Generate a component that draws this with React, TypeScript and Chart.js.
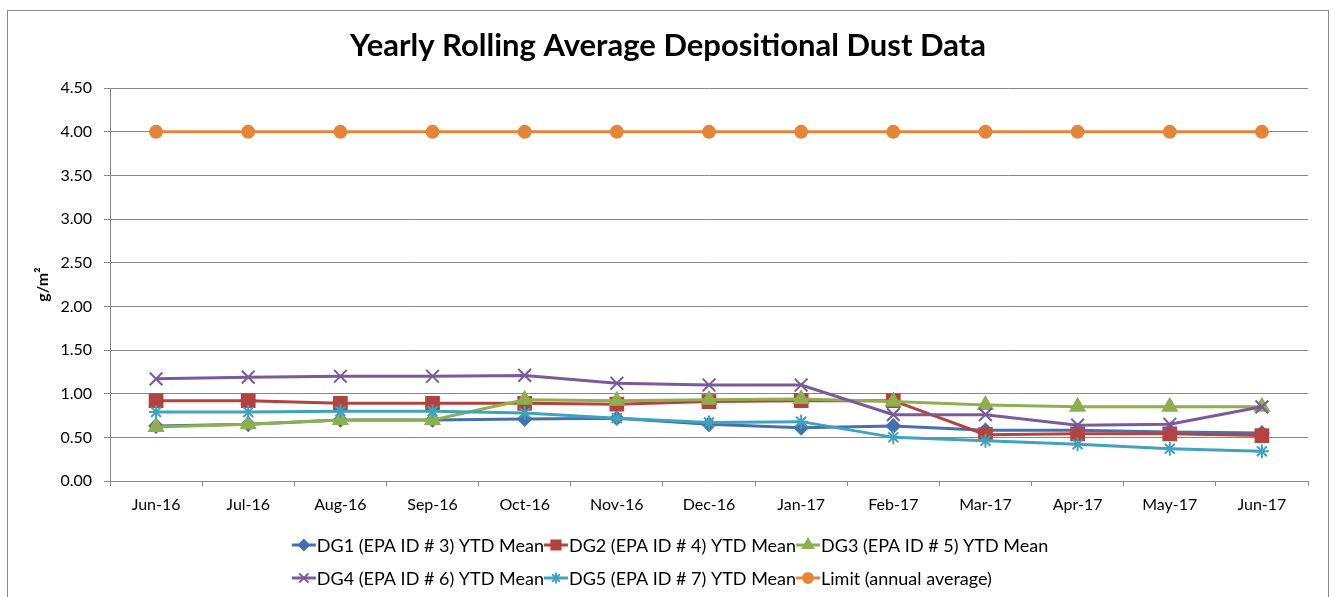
import React, { useEffect, useRef } from 'react';
import { Chart, registerables } from 'chart.js';
import { drawPoint } from 'chart.js/helpers';

Chart.register(...registerables);

const categories = ['Jun-16', 'Jul-16', 'Aug-16', 'Sep-16', 'Oct-16', 'Nov-16', 'Dec-16', 'Jan-17', 'Feb-17', 'Mar-17', 'Apr-17', 'May-17', 'Jun-17'];
const dg1 = [0.63, 0.65, 0.70, 0.70, 0.71, 0.72, 0.65, 0.61, 0.63, 0.58, 0.58, 0.56, 0.55];
const dg2 = [0.92, 0.92, 0.89, 0.89, 0.89, 0.88, 0.91, 0.92, 0.92, 0.53, 0.54, 0.54, 0.52];
const dg3 = [0.62, 0.65, 0.70, 0.70, 0.93, 0.92, 0.93, 0.94, 0.91, 0.87, 0.85, 0.85, 0.85];
const dg4 = [1.17, 1.19, 1.20, 1.20, 1.21, 1.12, 1.10, 1.10, 0.76, 0.76, 0.64, 0.65, 0.85];
const dg5 = [0.79, 0.79, 0.80, 0.80, 0.78, 0.72, 0.67, 0.68, 0.50, 0.46, 0.42, 0.37, 0.34];
const limit = [4.0, 4.0, 4.0, 4.0, 4.0, 4.0, 4.0, 4.0, 4.0, 4.0, 4.0, 4.0, 4.0];

const seriesNames = [
  'DG1 (EPA ID # 3) YTD Mean',
  'DG2 (EPA ID # 4) YTD Mean',
  'DG3 (EPA ID # 5) YTD Mean',
  'DG4 (EPA ID # 6) YTD Mean',
  'DG5 (EPA ID # 7) YTD Mean',
  'Limit (annual average)',
];
const seriesValues = [dg1, dg2, dg3, dg4, dg5, limit];
const seriesColors = ['#4471AD', '#B3433F', '#8DB04C', '#7A5A9C', '#3FA2BE', '#E5853A'];
const seriesStyles = ['rectRot', 'rect', 'triangle', 'crossRot', 'star', 'circle'];
const seriesRadius = [6.5, 9, 8, 9, 7, 6];
const legendRadius = [5, 6.5, 6, 6.5, 5.5, 5];

const titleText = 'Yearly Rolling Average Depositional Dust Data';
const yTitle = 'g/m²';
const FONT = 'Lato';
const GRID = '#878787';

const legendPlugin = {
  id: 'excelLegend',
  afterDraw(chart: any) {
    const ctx = chart.ctx;
    ctx.save();
    ctx.font = `18px ${FONT}`;
    ctx.textBaseline = 'middle';
    ctx.textAlign = 'left';
    const rows = [[0, 1, 2], [3, 4, 5]];
    const rowY = [545, 578];
    const symW = 24;
    const gap = 1;
    const widths = rows.map((r) => r.reduce((s, i) => s + symW + gap + ctx.measureText(seriesNames[i]).width, 0));
    const maxW = Math.max(...widths);
    const left = 670 - maxW / 2;
    rows.forEach((r, ri) => {
      let x = left;
      const y = rowY[ri];
      r.forEach((i) => {
        const c = seriesColors[i];
        ctx.strokeStyle = c;
        ctx.fillStyle = c;
        ctx.lineWidth = 3;
        ctx.beginPath();
        ctx.moveTo(x, y);
        ctx.lineTo(x + symW, y);
        ctx.stroke();
        ctx.lineWidth = 2;
        drawPoint(ctx, { pointStyle: seriesStyles[i], rotation: 0, radius: legendRadius[i], borderWidth: 2 }, x + symW / 2, y);
        ctx.fillStyle = '#000';
        ctx.fillText(seriesNames[i], x + symW + gap, y + 1);
        x += symW + gap + ctx.measureText(seriesNames[i]).width;
      });
    });
    ctx.restore();
  },
};

export default function App() {
  const ref = useRef<HTMLCanvasElement | null>(null);
  useEffect(() => {
    if (!ref.current) return;
    const chart = new Chart(ref.current, {
      type: 'line',
      data: {
        labels: categories,
        datasets: seriesValues.map((vals, i) => ({
          label: seriesNames[i],
          data: vals,
          borderColor: seriesColors[i],
          backgroundColor: seriesColors[i],
          pointBackgroundColor: seriesColors[i],
          pointBorderColor: seriesColors[i],
          pointStyle: seriesStyles[i] as any,
          pointRadius: seriesRadius[i],
          pointBorderWidth: 2,
          borderWidth: 3,
          tension: 0,
          fill: false,
          order: 6 - i,
        })),
      },
      options: {
        responsive: false,
        devicePixelRatio: 1,
        animation: false,
        layout: { padding: { left: 28, right: 27, top: 0, bottom: 76 } },
        plugins: {
          legend: { display: false },
          tooltip: { enabled: false },
          title: {
            display: true,
            text: titleText,
            color: '#000',
            font: { family: FONT, size: 31, weight: 'bold' },
            padding: { top: 27, bottom: 24 },
          },
        },
        scales: {
          x: {
            type: 'category',
            offset: true,
            afterFit: (s: any) => { s.height = 40; },
            grid: { display: true, offset: true, drawOnChartArea: false, drawTicks: true, tickLength: 5, color: GRID },
            border: { display: true, color: GRID, width: 1 },
            ticks: { color: '#000', font: { family: FONT, size: 16 }, padding: 9, maxRotation: 0, autoSkip: false },
          },
          y: {
            min: 0,
            max: 4.5,
            afterFit: (s: any) => { s.width = 82; },
            grid: { color: GRID, lineWidth: 1, drawTicks: true, tickLength: 6 },
            border: { display: true, color: GRID, width: 1 },
            ticks: {
              stepSize: 0.5,
              color: '#000',
              font: { family: FONT, size: 16 },
              padding: 12,
              callback: (v: any) => Number(v).toFixed(2),
            },
            title: {
              display: true,
              text: yTitle,
              color: '#000',
              font: { family: FONT, size: 16, weight: 'bold' },
              padding: { top: 5, bottom: 0 },
            },
          },
        },
      },
      plugins: [legendPlugin],
    });
    return () => chart.destroy();
  }, []);

  return (
    <div style={{ position: 'absolute', left: 0, top: 0, width: 1335, height: 597, overflow: 'hidden', background: '#fff' }}>
      <div style={{ position: 'absolute', left: 7, top: 10, width: 1322, height: 700, border: '1px solid #8a8a8a', boxSizing: 'border-box' }} />
      <canvas ref={ref} width={1335} height={597} style={{ position: 'absolute', left: 0, top: 0, display: 'block' }} />
    </div>
  );
}
